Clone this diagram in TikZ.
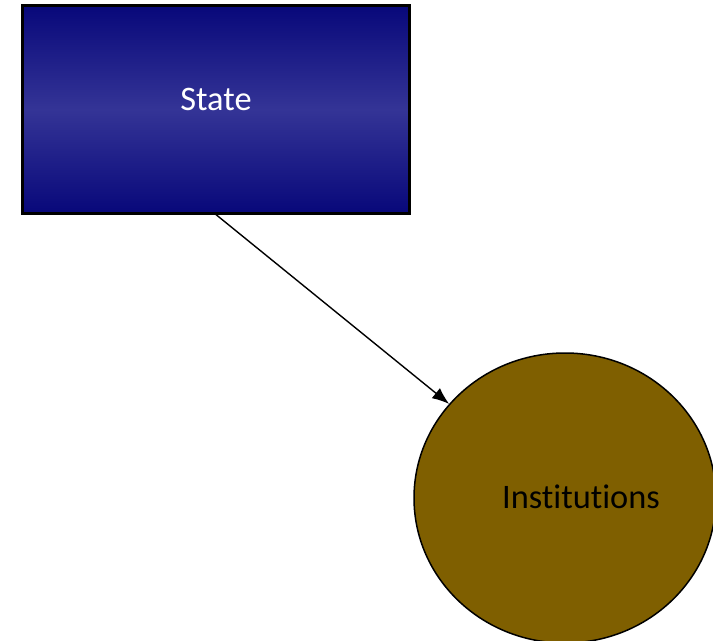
\documentclass[tikz,border=0pt]{standalone}
\usepackage{fontspec}
\setmainfont{Carlito}[RawFeature=-liga]
\usetikzlibrary{shapes.geometric,arrows.meta}
\definecolor{navyedge}{RGB}{8,8,122}
\definecolor{navymid}{RGB}{52,52,150}
\definecolor{olivebrown}{RGB}{127,95,0}
\tikzset{
  statebox/.style={draw=black, line width=2.2bp, top color=navyedge, bottom color=navyedge,
    middle color=navymid, minimum width=387bp, minimum height=208bp, inner sep=0pt},
  instcircle/.style={ellipse, draw=black, line width=1.5bp, fill=olivebrown,
    minimum width=302bp, minimum height=290bp, inner sep=0pt},
  bigtext/.style={font=\fontsize{34.5}{41}\selectfont},
  link/.style={-{Latex[length=17bp,width=13bp]}, line width=1.4bp}
}
\begin{document}
\begin{tikzpicture}[x=1bp,y=-1bp]
\useasboundingbox (0,0) rectangle (713,641);
\node[statebox] (state) at (216,109.5) {};
\node[bigtext, text=white] (statetext) at (216,99) {State};
\node[instcircle] (inst) at (565,498) {};
\node[bigtext, text=black] (insttext) at (581,497) {Institutions};
\draw[link] (state.south) -- (inst);
\end{tikzpicture}
\end{document}
